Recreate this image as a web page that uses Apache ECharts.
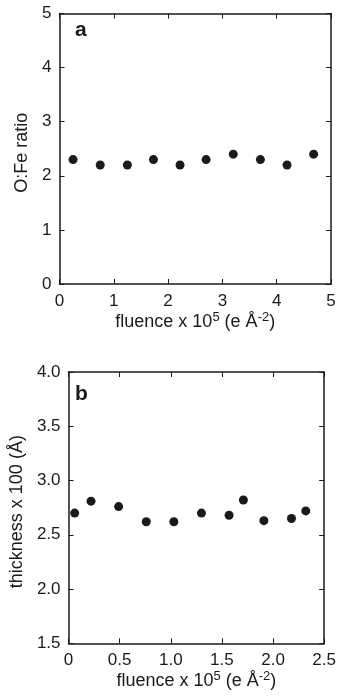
<!DOCTYPE html>
<html>
<head>
<meta charset="utf-8">
<script src="https://cdn.jsdelivr.net/npm/echarts@6/dist/echarts.min.js"></script>
<style>
html,body{margin:0;padding:0;background:#fff;}
#c{width:339px;height:696px;}
</style>
</head>
<body>
<div id="c"></div>
<script>
// Panel a
const fluenceA = [0.25, 0.75, 1.25, 1.73, 2.22, 2.70, 3.20, 3.70, 4.19, 4.68];
const ratioA = [2.3, 2.2, 2.2, 2.3, 2.2, 2.3, 2.4, 2.3, 2.2, 2.4];
// Panel b
const fluenceB = [0.06, 0.22, 0.49, 0.76, 1.03, 1.30, 1.57, 1.71, 1.91, 2.18, 2.32];
const thicknessB = [2.70, 2.81, 2.76, 2.62, 2.62, 2.70, 2.68, 2.82, 2.63, 2.65, 2.72];

const FONT = '"Liberation Sans", Arial, Helvetica, sans-serif';
const INK = '#1a1a1a';

const chart = echarts.init(document.getElementById('c'), null, {renderer: 'canvas'});

const xName = 'fluence x 10{sup|5} (e Å{sup|-2})';
const nameStyle = {
  fontFamily: FONT, fontSize: 18, color: INK, lineHeight: 22,
  rich: { sup: { fontFamily: FONT, fontSize: 13, color: INK, verticalAlign: 'top', lineHeight: 12 } }
};
const line = { show: true, onZero: false, lineStyle: { color: INK, width: 1.5 } };
const tick = { show: true, inside: true, length: 5, lineStyle: { color: INK, width: 1 } };
const lbl = { fontFamily: FONT, fontSize: 17, color: INK };

function xAx(grid, min, max, interval, fmt, name, gap) {
  return [
    { type: 'value', gridIndex: grid, position: 'bottom', min, max, interval,
      axisLine: line, axisTick: tick, splitLine: { show: false },
      axisLabel: Object.assign({ margin: 9, formatter: fmt }, lbl),
      name, nameLocation: 'middle', nameGap: gap, nameTextStyle: nameStyle },
    { type: 'value', gridIndex: grid, position: 'top', min, max, interval,
      axisLine: line, axisTick: tick, splitLine: { show: false }, axisLabel: { show: false } }
  ];
}
function yAx(grid, min, max, interval, fmt, name, gap) {
  return [
    { type: 'value', gridIndex: grid, position: 'left', min, max, interval,
      axisLine: line, axisTick: tick, splitLine: { show: false },
      axisLabel: Object.assign({ margin: 8, formatter: fmt }, lbl),
      name, nameLocation: 'middle', nameGap: gap, nameRotate: 90,
      nameTextStyle: { fontFamily: FONT, fontSize: 18, color: INK, padding: [0, 8, 0, 0] } },
    { type: 'value', gridIndex: grid, position: 'right', min, max, interval,
      axisLine: line, axisTick: tick, splitLine: { show: false }, axisLabel: { show: false } }
  ];
}

const fmtInt = v => String(v);
const fmtB = v => (v === 0 ? '0' : v.toFixed(1));
const fmt1 = v => v.toFixed(1);

chart.setOption({
  animation: false,
  grid: [
    { left: 59.5, top: 13.5, width: 271.5, height: 270.5 },
    { left: 59.5, top: 372, width: 271.5, height: 271.3 }
  ],
  xAxis: [].concat(
    xAx(0, 0, 5, 1, fmtInt, xName, 26),
    xAx(1, 0, 2.5, 0.5, fmtB, xName, 22)
  ),
  yAxis: [].concat(
    yAx(0, 0, 5, 1, fmtInt, 'O:Fe ratio', 18),
    yAx(1, 1.5, 4.0, 0.5, fmt1, 'thickness x 100 (Å)', 31)
  ),
  series: [
    { type: 'scatter', xAxisIndex: 0, yAxisIndex: 0, symbol: 'circle', symbolSize: 9,
      itemStyle: { color: INK, opacity: 1 }, data: fluenceA.map((x, i) => [x, ratioA[i]]) },
    { type: 'scatter', xAxisIndex: 2, yAxisIndex: 2, symbol: 'circle', symbolSize: 9,
      itemStyle: { color: INK, opacity: 1 }, data: fluenceB.map((x, i) => [x, thicknessB[i]]) }
  ],
  graphic: [
    { type: 'text', left: 75, top: 20, style: { text: 'a', font: 'bold 21px ' + FONT, fill: INK } },
    { type: 'text', left: 75, top: 384, style: { text: 'b', font: 'bold 21px ' + FONT, fill: INK } }
  ]
});
</script>
</body>
</html>
